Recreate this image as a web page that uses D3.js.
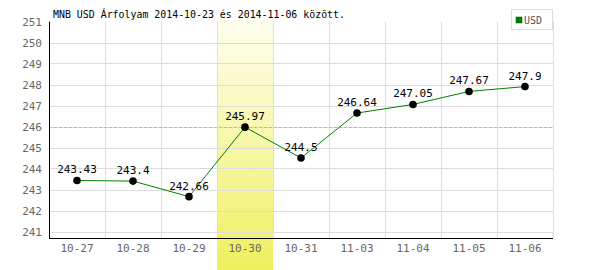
<!DOCTYPE html>
<html>
<head>
<meta charset="utf-8">
<script src="https://cdn.jsdelivr.net/npm/d3@7"></script>
<style>
  body { margin: 0; background: #fff; }
  text { font-family: "DejaVu Sans Mono", "Liberation Mono", monospace; }
</style>
</head>
<body>
<div id="chart"></div>
<script>
'use strict';

const dates = ['10-27', '10-28', '10-29', '10-30', '10-31', '11-03', '11-04', '11-05', '11-06'];
const rates = [243.43, 243.4, 242.66, 245.97, 244.5, 246.64, 247.05, 247.67, 247.9];
const yTicks = [241, 242, 243, 244, 245, 246, 247, 248, 249, 250, 251];
const highlightDate = '10-30';
const refValue = 246;
const title = 'MNB USD Árfolyam 2014-10-23 és 2014-11-06 között.';

const width = 600, height = 270;
const plotLeft = 49, plotRight = 553, plotTop = 21.5, plotBottom = 238;

let xScale = d3.scaleBand()
    .domain(dates)
    .range([plotLeft, plotRight]);

let yScale = d3.scaleLinear()
    .domain([241, 251])
    .range([231.5, 21.5]);

let svg = d3.select('#chart').append('svg')
    .attr('width', width)
    .attr('height', height);

let grad = svg.append('defs').append('linearGradient')
    .attr('id', 'hl')
    .attr('x1', 0).attr('y1', 0).attr('x2', 0).attr('y2', 1);
grad.append('stop').attr('offset', '0%').attr('stop-color', '#fefef0');
grad.append('stop').attr('offset', '100%').attr('stop-color', '#efef5e');

// highlighted day
svg.append('rect')
    .attr('x', xScale(highlightDate))
    .attr('y', 20)
    .attr('width', xScale.bandwidth())
    .attr('height', height - 20)
    .attr('fill', 'url(#hl)');

// grid
svg.append('g')
    .selectAll('line')
    .data(yTicks.filter(d => d < 251))
    .enter()
    .append('line')
    .attr('x1', plotLeft).attr('x2', plotRight)
    .attr('y1', d => Math.round(yScale(d)) + 0.5)
    .attr('y2', d => Math.round(yScale(d)) + 0.5)
    .attr('stroke', '#dddddd');

svg.append('g')
    .selectAll('line')
    .data(dates)
    .enter()
    .append('line')
    .attr('x1', d => xScale(d) + xScale.bandwidth() + 0.5)
    .attr('x2', d => xScale(d) + xScale.bandwidth() + 0.5)
    .attr('y1', plotTop).attr('y2', plotBottom)
    .attr('stroke', '#dddddd');

// reference line
svg.append('line')
    .attr('x1', plotLeft).attr('x2', plotRight)
    .attr('y1', Math.round(yScale(refValue)) + 0.5)
    .attr('y2', Math.round(yScale(refValue)) + 0.5)
    .attr('stroke', '#a8c4a8')
    .attr('stroke-dasharray', '3,2');

// axes
svg.append('line')
    .attr('x1', plotLeft + 0.5).attr('x2', plotLeft + 0.5)
    .attr('y1', plotTop).attr('y2', plotBottom + 1)
    .attr('stroke', '#000');
svg.append('line')
    .attr('x1', plotLeft).attr('x2', plotRight)
    .attr('y1', plotBottom + 0.5).attr('y2', plotBottom + 0.5)
    .attr('stroke', '#000');

svg.append('g')
    .selectAll('text')
    .data(yTicks)
    .enter()
    .append('text')
    .text(d => d)
    .attr('x', 42)
    .attr('y', d => yScale(d) + 4)
    .attr('text-anchor', 'end')
    .attr('font-size', '11px')
    .attr('fill', '#666');

svg.append('g')
    .selectAll('text')
    .data(dates)
    .enter()
    .append('text')
    .text(d => d)
    .attr('x', d => xScale(d) + xScale.bandwidth() / 2)
    .attr('y', 252)
    .attr('text-anchor', 'middle')
    .attr('font-size', '11px')
    .attr('fill', '#666');

// series
let line = d3.line()
    .x((d, i) => xScale(dates[i]) + xScale.bandwidth() / 2)
    .y(d => yScale(d));

svg.append('path')
    .datum(rates)
    .attr('d', line)
    .attr('fill', 'none')
    .attr('stroke', '#008000')
    .attr('stroke-width', 1);

svg.append('g')
    .selectAll('circle')
    .data(rates)
    .enter()
    .append('circle')
    .attr('cx', (d, i) => xScale(dates[i]) + xScale.bandwidth() / 2)
    .attr('cy', d => yScale(d))
    .attr('r', 3.8)
    .attr('fill', '#000');

svg.append('g')
    .selectAll('text')
    .data(rates)
    .enter()
    .append('text')
    .text(d => d)
    .attr('x', (d, i) => xScale(dates[i]) + xScale.bandwidth() / 2)
    .attr('y', d => yScale(d) - 7)
    .attr('text-anchor', 'middle')
    .attr('font-size', '11px')
    .attr('fill', '#000');

// title
svg.append('text')
    .text(title)
    .attr('x', 53)
    .attr('y', 18)
    .attr('font-size', '11px')
    .attr('textLength', 292)
    .attr('lengthAdjust', 'spacingAndGlyphs')
    .attr('fill', '#000');

// legend
svg.append('rect')
    .attr('x', 511.5).attr('y', 9.5)
    .attr('width', 41).attr('height', 20)
    .attr('fill', '#fff')
    .attr('stroke', '#dddddd');
svg.append('rect')
    .attr('x', 516).attr('y', 17)
    .attr('width', 6).attr('height', 6)
    .attr('fill', '#008000')
    .attr('stroke', '#005000')
    .attr('stroke-width', 0.5);
svg.append('text')
    .text('USD')
    .attr('x', 524)
    .attr('y', 23.5)
    .attr('font-size', '10px')
    .attr('fill', '#555');
</script>
</body>
</html>
